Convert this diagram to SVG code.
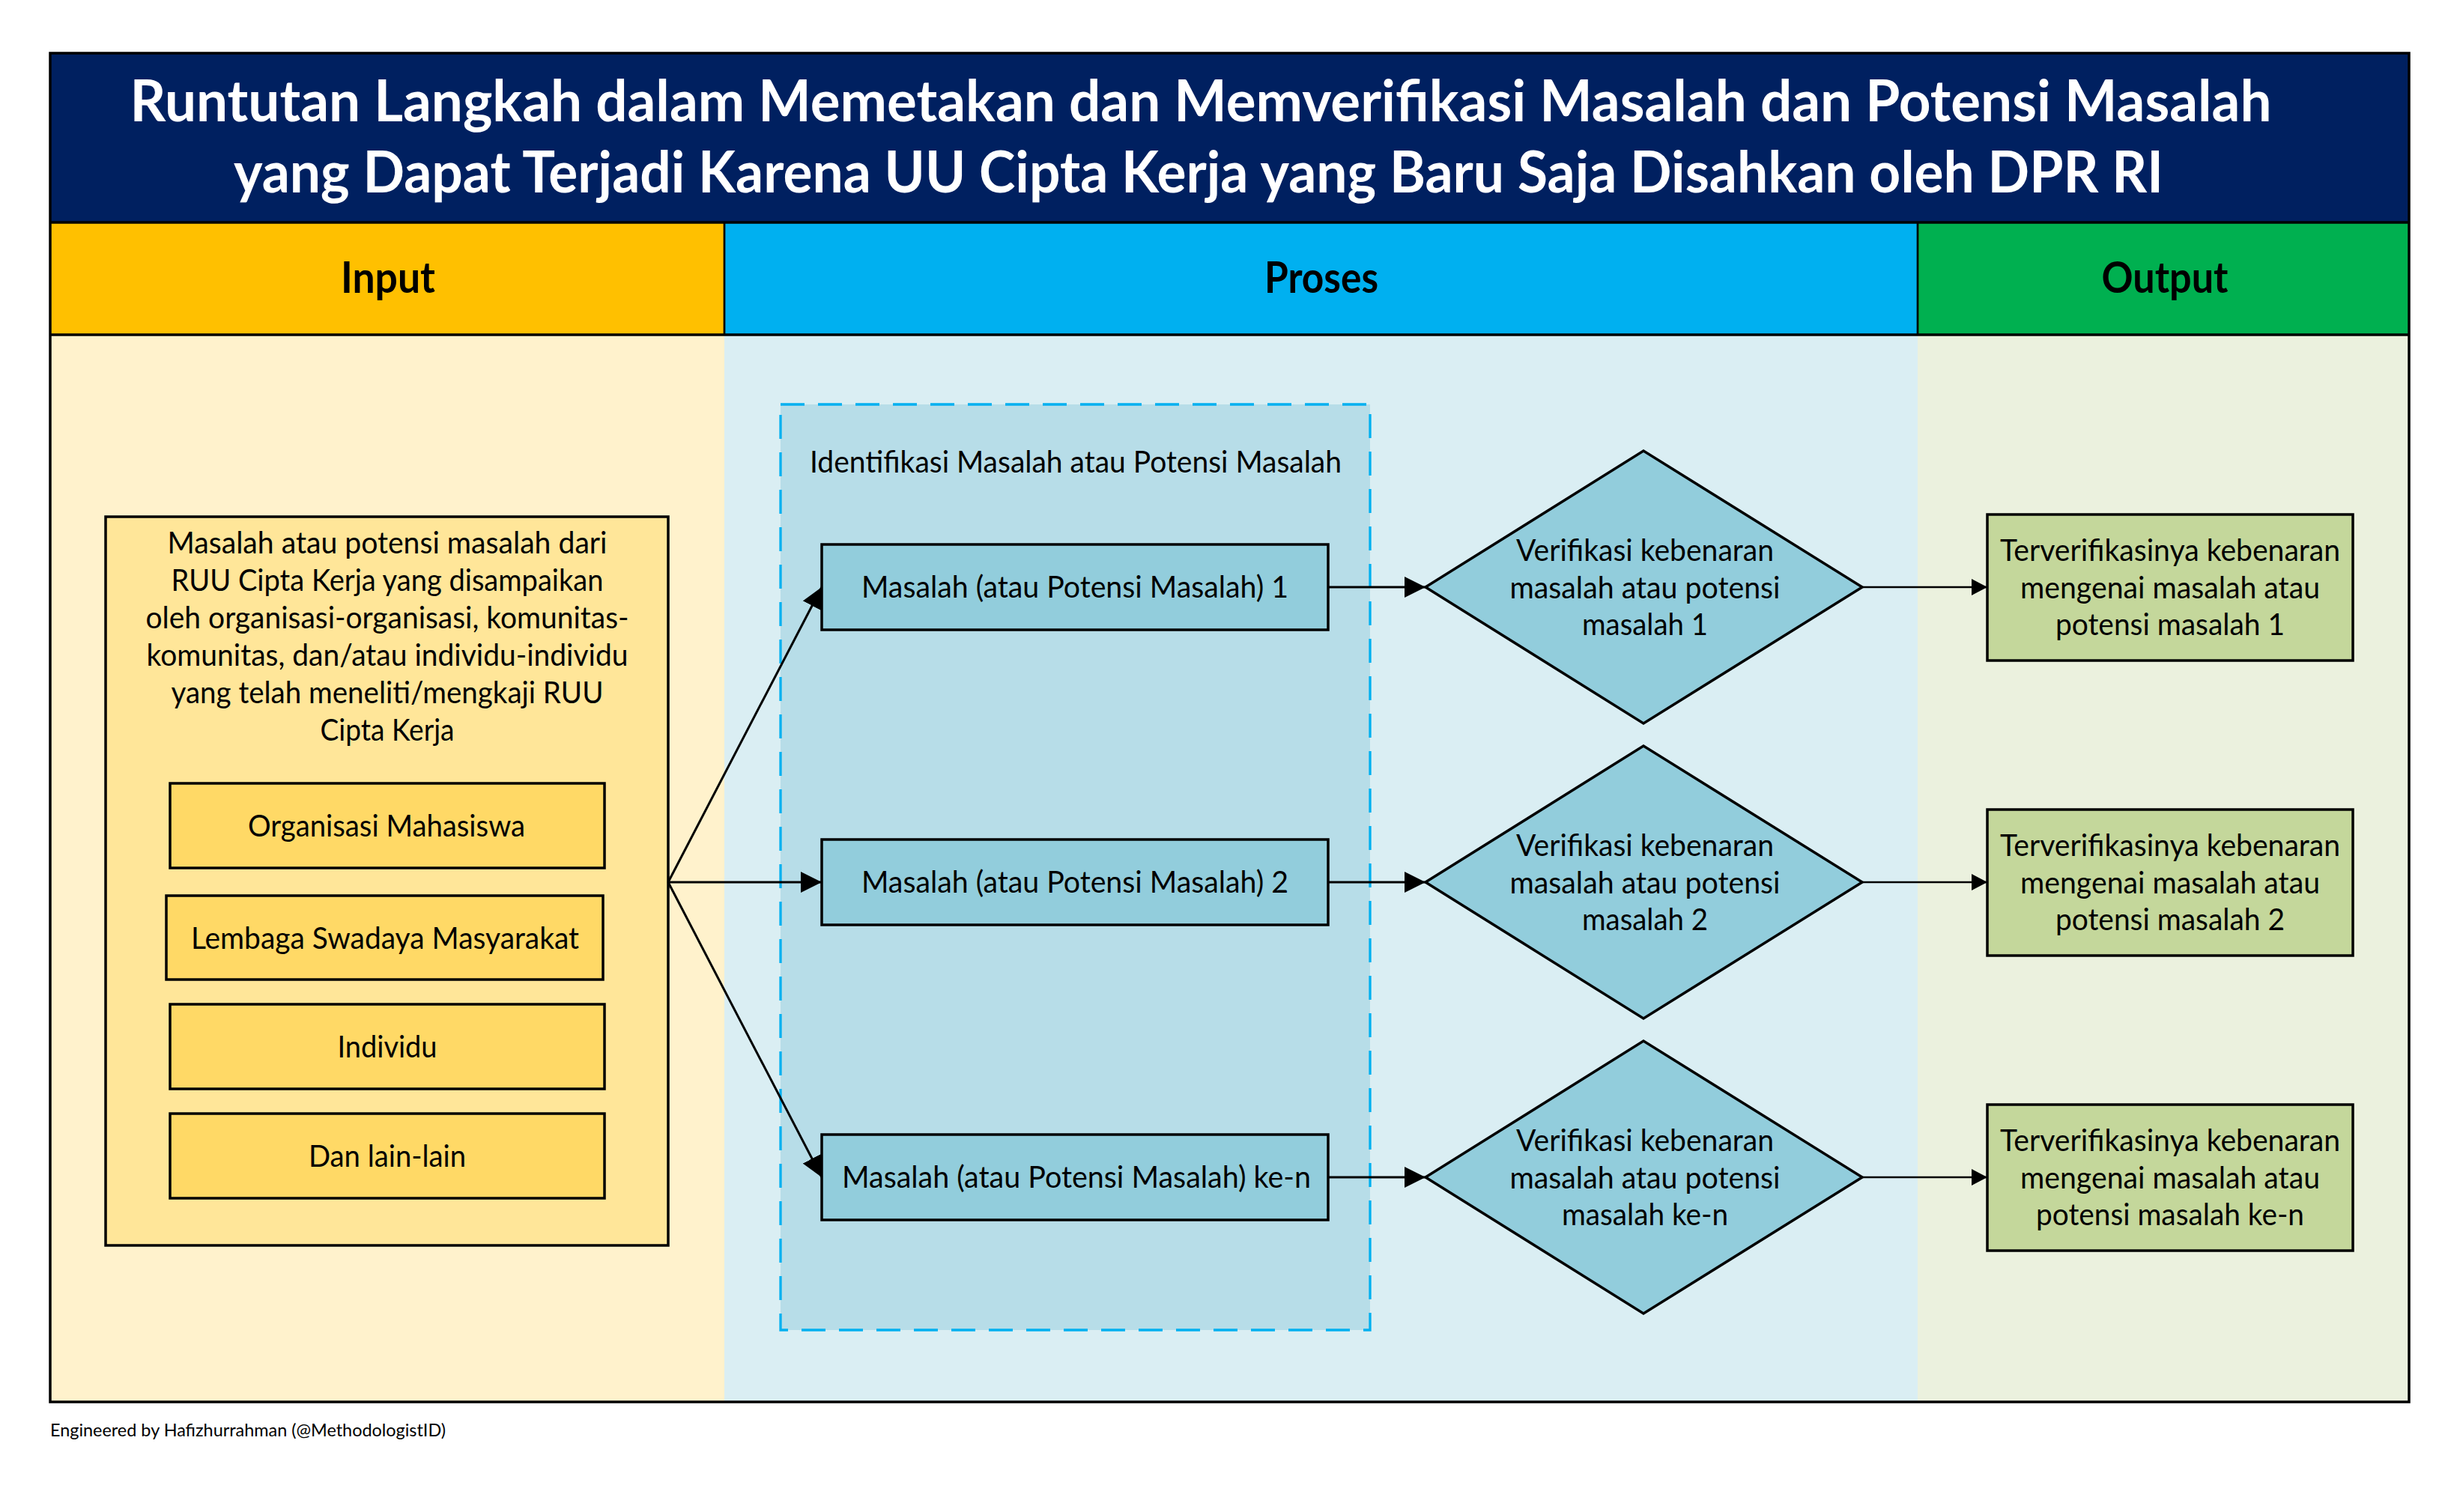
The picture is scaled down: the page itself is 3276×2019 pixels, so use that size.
<svg xmlns="http://www.w3.org/2000/svg" width="3276" height="2019" viewBox="0 0 3276 2019">
<defs>
<style>
.t{font-family:Lato,"Open Sans","Liberation Sans",sans-serif;fill:#000;text-anchor:middle}
.w{fill:#fff}
.r{font-size:41px}
.b{font-weight:bold}
.box{stroke:#000;stroke-width:3.5}
.ln{stroke:#000;stroke-width:3;fill:none}
.ln2{stroke:#000;stroke-width:2.5;fill:none}
</style>
<marker id="ah" markerUnits="userSpaceOnUse" markerWidth="30" markerHeight="30" refX="28" refY="14" orient="auto"><path d="M0,0 L28,14 L0,28 Z" fill="#000"/></marker>
<marker id="ah2" markerUnits="userSpaceOnUse" markerWidth="24" markerHeight="24" refX="21" refY="11" orient="auto"><path d="M0,0 L21,11 L0,22 Z" fill="#000"/></marker>
</defs>
<rect width="3276" height="2019" fill="#fff"/>
<g id="background">
<rect x="67" y="447" width="900" height="1425" fill="#FFF2CC"/>
<rect x="967" y="447" width="1593" height="1425" fill="#DAEEF3"/>
<rect x="2560" y="447" width="656" height="1425" fill="#EBF1DE"/>
</g>
<g id="title">
<rect x="67" y="71" width="3149" height="226" fill="#002060"/>
<text class="t b w" x="1603" y="162" font-size="76" textLength="2859" lengthAdjust="spacingAndGlyphs">Runtutan Langkah dalam Memetakan dan Memverifikasi Masalah dan Potensi Masalah</text>
<text class="t b w" x="1600" y="257" font-size="76" textLength="2576" lengthAdjust="spacingAndGlyphs">yang Dapat Terjadi Karena UU Cipta Kerja yang Baru Saja Disahkan oleh DPR RI</text>
</g>
<g id="header-input">
<rect x="67" y="297" width="900" height="150" fill="#FFC000"/>
<text class="t b" x="518" y="391" font-size="58" textLength="126" lengthAdjust="spacingAndGlyphs">Input</text>
</g>
<g id="header-proses">
<rect x="967" y="297" width="1593" height="150" fill="#00B0F0"/>
<text class="t b" x="1764" y="391" font-size="58" textLength="152" lengthAdjust="spacingAndGlyphs">Proses</text>
</g>
<g id="header-output">
<rect x="2560" y="297" width="656" height="150" fill="#00B050"/>
<text class="t b" x="2890" y="391" font-size="58" textLength="169" lengthAdjust="spacingAndGlyphs">Output</text>
</g>
<g id="frame" fill="none" stroke="#000">
<line x1="967" y1="297" x2="967" y2="447" stroke-width="2.7"/>
<line x1="2560" y1="297" x2="2560" y2="447" stroke-width="2.7"/>
<line x1="67" y1="297" x2="3216" y2="297" stroke-width="3.5"/>
<line x1="67" y1="447" x2="3216" y2="447" stroke-width="3.5"/>
<rect x="67" y="71" width="3149" height="1801" stroke-width="3.5"/>
</g>
<g id="input-sources">
<rect class="box" x="141" y="690" width="751" height="973" fill="#FFE699"/>
<text class="t r" x="517" y="739" textLength="587" lengthAdjust="spacingAndGlyphs">Masalah atau potensi masalah dari</text>
<text class="t r" x="517" y="789" textLength="577" lengthAdjust="spacingAndGlyphs">RUU Cipta Kerja yang disampaikan</text>
<text class="t r" x="517" y="839" textLength="645" lengthAdjust="spacingAndGlyphs">oleh organisasi-organisasi, komunitas-</text>
<text class="t r" x="517" y="889" textLength="643" lengthAdjust="spacingAndGlyphs">komunitas, dan/atau individu-individu</text>
<text class="t r" x="517" y="939" textLength="577" lengthAdjust="spacingAndGlyphs">yang telah meneliti/mengkaji RUU</text>
<text class="t r" x="517" y="989" textLength="179" lengthAdjust="spacingAndGlyphs">Cipta Kerja</text>
</g>
<g id="organisasi-mahasiswa">
<rect class="box" x="227" y="1046" width="580" height="113" fill="#FFD966"/>
<text class="t r" x="516" y="1117" textLength="370" lengthAdjust="spacingAndGlyphs">Organisasi Mahasiswa</text>
</g>
<g id="lembaga-swadaya-masyarakat">
<rect class="box" x="222" y="1196" width="583" height="112" fill="#FFD966"/>
<text class="t r" x="514" y="1267" textLength="518" lengthAdjust="spacingAndGlyphs">Lembaga Swadaya Masyarakat</text>
</g>
<g id="individu">
<rect class="box" x="227" y="1341" width="580" height="113" fill="#FFD966"/>
<text class="t r" x="517" y="1412" textLength="133" lengthAdjust="spacingAndGlyphs">Individu</text>
</g>
<g id="dan-lain-lain">
<rect class="box" x="227" y="1487" width="580" height="113" fill="#FFD966"/>
<text class="t r" x="517" y="1558" textLength="210" lengthAdjust="spacingAndGlyphs">Dan lain-lain</text>
</g>
<g id="identifikasi">
<rect x="1042" y="540" width="787" height="1236" fill="#B7DDE8" stroke="#00B0F0" stroke-width="3.3" stroke-dasharray="32 18"/>
<text class="t r" x="1436" y="631" textLength="710" lengthAdjust="spacingAndGlyphs">Identifikasi Masalah atau Potensi Masalah</text>
</g>
<g id="masalah-1">
<rect class="box" x="1097" y="727" width="676" height="114" fill="#92CDDC"/>
<text class="t r" x="1435" y="798" textLength="570" lengthAdjust="spacingAndGlyphs">Masalah (atau Potensi Masalah) 1</text>
</g>
<g id="masalah-2">
<rect class="box" x="1097" y="1121" width="676" height="114" fill="#92CDDC"/>
<text class="t r" x="1435" y="1192" textLength="570" lengthAdjust="spacingAndGlyphs">Masalah (atau Potensi Masalah) 2</text>
</g>
<g id="masalah-n">
<rect class="box" x="1097" y="1515" width="676" height="114" fill="#92CDDC"/>
<text class="t r" x="1437" y="1586" textLength="626" lengthAdjust="spacingAndGlyphs">Masalah (atau Potensi Masalah) ke-n</text>
</g>
<g id="verifikasi-1">
<polygon class="box" points="1903,784 2194,602 2486,784 2194,966" fill="#92CDDC"/>
<text class="t r" x="2196" y="749" textLength="344" lengthAdjust="spacingAndGlyphs">Verifikasi kebenaran</text>
<text class="t r" x="2196" y="799" textLength="361" lengthAdjust="spacingAndGlyphs">masalah atau potensi</text>
<text class="t r" x="2196" y="848" textLength="168" lengthAdjust="spacingAndGlyphs">masalah 1</text>
</g>
<g id="verifikasi-2">
<polygon class="box" points="1903,1178 2194,996 2486,1178 2194,1360" fill="#92CDDC"/>
<text class="t r" x="2196" y="1143" textLength="344" lengthAdjust="spacingAndGlyphs">Verifikasi kebenaran</text>
<text class="t r" x="2196" y="1193" textLength="361" lengthAdjust="spacingAndGlyphs">masalah atau potensi</text>
<text class="t r" x="2196" y="1242" textLength="168" lengthAdjust="spacingAndGlyphs">masalah 2</text>
</g>
<g id="verifikasi-n">
<polygon class="box" points="1903,1572 2194,1390 2486,1572 2194,1754" fill="#92CDDC"/>
<text class="t r" x="2196" y="1537" textLength="344" lengthAdjust="spacingAndGlyphs">Verifikasi kebenaran</text>
<text class="t r" x="2196" y="1587" textLength="361" lengthAdjust="spacingAndGlyphs">masalah atau potensi</text>
<text class="t r" x="2196" y="1636" textLength="222" lengthAdjust="spacingAndGlyphs">masalah ke-n</text>
</g>
<g id="output-1">
<rect class="box" x="2653" y="687" width="488" height="195" fill="#C4D79B"/>
<text class="t r" x="2897" y="749" textLength="454" lengthAdjust="spacingAndGlyphs">Terverifikasinya kebenaran</text>
<text class="t r" x="2897" y="799" textLength="400" lengthAdjust="spacingAndGlyphs">mengenai masalah atau</text>
<text class="t r" x="2897" y="848" textLength="306" lengthAdjust="spacingAndGlyphs">potensi masalah 1</text>
</g>
<g id="output-2">
<rect class="box" x="2653" y="1081" width="488" height="195" fill="#C4D79B"/>
<text class="t r" x="2897" y="1143" textLength="454" lengthAdjust="spacingAndGlyphs">Terverifikasinya kebenaran</text>
<text class="t r" x="2897" y="1193" textLength="400" lengthAdjust="spacingAndGlyphs">mengenai masalah atau</text>
<text class="t r" x="2897" y="1242" textLength="306" lengthAdjust="spacingAndGlyphs">potensi masalah 2</text>
</g>
<g id="output-n">
<rect class="box" x="2653" y="1475" width="488" height="195" fill="#C4D79B"/>
<text class="t r" x="2897" y="1537" textLength="454" lengthAdjust="spacingAndGlyphs">Terverifikasinya kebenaran</text>
<text class="t r" x="2897" y="1587" textLength="400" lengthAdjust="spacingAndGlyphs">mengenai masalah atau</text>
<text class="t r" x="2897" y="1636" textLength="358" lengthAdjust="spacingAndGlyphs">potensi masalah ke-n</text>
</g>
<g id="connectors">
<line class="ln" x1="892" y1="1178" x2="1097" y2="784" marker-end="url(#ah)"/>
<line class="ln" x1="892" y1="1178" x2="1097" y2="1178" marker-end="url(#ah)"/>
<line class="ln" x1="892" y1="1178" x2="1097" y2="1572" marker-end="url(#ah)"/>
<line class="ln" x1="1773" y1="784" x2="1903" y2="784" marker-end="url(#ah)"/>
<line class="ln" x1="1773" y1="1178" x2="1903" y2="1178" marker-end="url(#ah)"/>
<line class="ln" x1="1773" y1="1572" x2="1903" y2="1572" marker-end="url(#ah)"/>
<line class="ln2" x1="2486" y1="784" x2="2653" y2="784" marker-end="url(#ah2)"/>
<line class="ln2" x1="2486" y1="1178" x2="2653" y2="1178" marker-end="url(#ah2)"/>
<line class="ln2" x1="2486" y1="1572" x2="2653" y2="1572" marker-end="url(#ah2)"/>
</g>
<g id="footer">
<text class="t" x="67" y="1918" font-size="24" style="text-anchor:start" textLength="528" lengthAdjust="spacingAndGlyphs">Engineered by Hafizhurrahman (@MethodologistID)</text>
</g>
</svg>
